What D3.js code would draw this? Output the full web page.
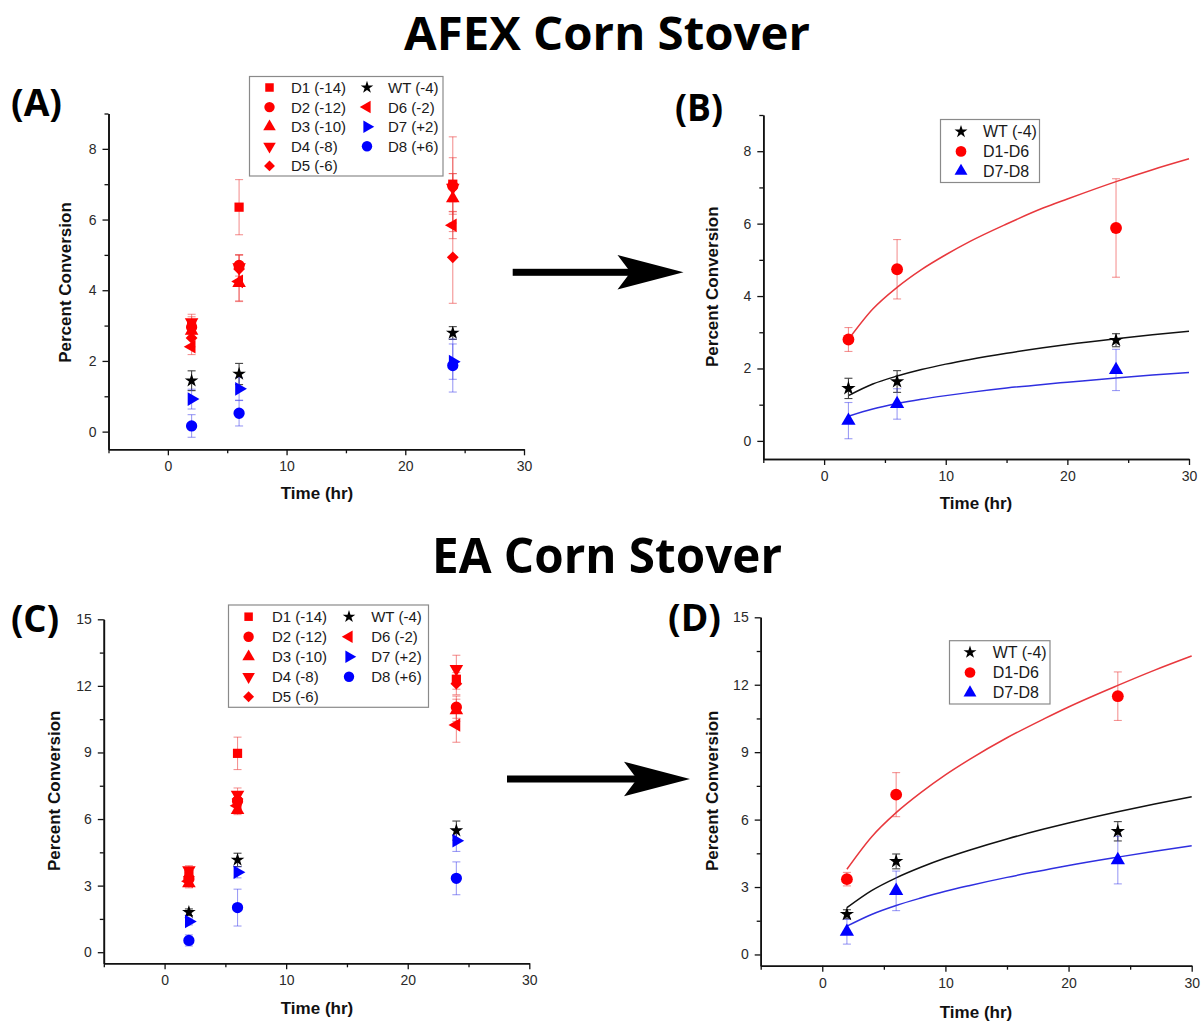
<!DOCTYPE html>
<html><head><meta charset="utf-8">
<script src="https://cdn.jsdelivr.net/npm/d3@7"></script>
<style>
html,body{margin:0;padding:0;background:#fff;}
svg{display:block;}
</style></head>
<body>
<svg id="chart" width="1201" height="1021"></svg>
<script>
// ---------------- DATA ----------------
const times = [2, 6, 24];
const fitTimes = [2, 4, 6, 8, 10, 12, 15, 18, 20, 24, 27, 30];

const xTicksMajor = [0, 10, 20, 30];
const xTicksMinor = [-5, 5, 15, 25];
const yTicksAfexMajor = [0, 2, 4, 6, 8];
const yTicksAfexMinor = [1, 3, 5, 7, 9];
const yTicksEaMajor = [0, 3, 6, 9, 12, 15];
const yTicksEaMinor = [1.5, 4.5, 7.5, 10.5, 13.5];

const mutantLabels = ["D1 (-14)", "D2 (-12)", "D3 (-10)", "D4 (-8)", "D5 (-6)", "WT (-4)", "D6 (-2)", "D7 (+2)", "D8 (+6)"];
const groupLabels = ["WT (-4)", "D1-D6", "D7-D8"];

// Panel A (AFEX, individual mutants)
const afexD1 = [3.05, 6.35, 7.00],  afexD1Err = [0.20, 0.78, 1.34];
const afexD2 = [2.95, 4.70, 6.95],  afexD2Err = [0.20, 0.30, 0.80];
const afexD3 = [2.85, 4.20, 6.60],  afexD3Err = [0.20, 0.52, 0.70];
const afexD4 = [3.10, 4.65, 6.90],  afexD4Err = [0.22, 0.35, 0.40];
const afexD5 = [2.65, 4.60, 4.93],  afexD5Err = [0.25, 0.40, 1.30];
const afexWT = [1.44, 1.63, 2.79],  afexWTErr = [0.28, 0.30, 0.18];
const afexD6 = [2.40, 4.25, 5.84],  afexD6Err = [0.22, 0.55, 0.38];
const afexD7 = [0.92, 1.21, 1.98],  afexD7Err = [0.28, 0.32, 0.50];
const afexD8 = [0.16, 0.52, 1.87],  afexD8Err = [0.32, 0.36, 0.75];

// Panel B (AFEX, grouped + fits)
const afexGrpWT = [1.45, 1.64, 2.78],   afexGrpWTErr = [0.28, 0.30, 0.18];
const afexGrpNeg = [2.80, 4.74, 5.88],  afexGrpNegErr = [0.33, 0.82, 1.36];
const afexGrpPos = [0.56, 1.02, 1.96],  afexGrpPosErr = [0.50, 0.42, 0.57];
const afexFitWT  = [1.25, 1.57, 1.79, 1.97, 2.12, 2.25, 2.42, 2.57, 2.66, 2.82, 2.93, 3.03];
const afexFitNeg = [2.80, 3.64, 4.24, 4.73, 5.14, 5.51, 5.99, 6.43, 6.68, 7.16, 7.49, 7.79];
const afexFitPos = [0.68, 0.88, 1.03, 1.15, 1.25, 1.34, 1.46, 1.56, 1.62, 1.74, 1.82, 1.89];

// Panel C (EA, individual mutants)
const eaD1 = [3.50, 8.96, 12.30],  eaD1Err = [0.20, 0.73, 0.45];
const eaD2 = [3.30, 6.80, 11.04],  eaD2Err = [0.20, 0.35, 0.50];
const eaD3 = [3.10, 6.40, 10.90],  eaD3Err = [0.20, 0.20, 0.50];
const eaD4 = [3.70, 7.10, 12.76],  eaD4Err = [0.20, 0.30, 0.62];
const eaD5 = [3.40, 6.90, 12.10],  eaD5Err = [0.20, 0.30, 0.50];
const eaWT = [1.80, 4.16, 5.48],   eaWTErr = [0.15, 0.30, 0.43];
const eaD6 = [3.20, 6.60, 10.24],  eaD6Err = [0.20, 0.30, 0.78];
const eaD7 = [1.38, 3.60, 5.02],   eaD7Err = [0.15, 0.25, 0.48];
const eaD8 = [0.53, 2.01, 3.33],   eaD8Err = [0.25, 0.83, 0.74];

// Panel D (EA, grouped + fits)
const eaGrpWT = [1.79, 4.14, 5.48],    eaGrpWTErr = [0.20, 0.33, 0.43];
const eaGrpNeg = [3.35, 7.11, 11.49],  eaGrpNegErr = [0.30, 0.98, 1.08];
const eaGrpPos = [1.01, 2.83, 4.20],   eaGrpPosErr = [0.55, 0.88, 1.06];
const eaFitWT  = [2.08, 2.84, 3.41, 3.88, 4.29, 4.65, 5.14, 5.58, 5.85, 6.35, 6.69, 7.02];
const eaFitNeg = [3.79, 5.23, 6.31, 7.20, 7.99, 8.69, 9.64, 10.48, 11.01, 11.97, 12.65, 13.28];
const eaFitPos = [1.26, 1.78, 2.18, 2.51, 2.81, 3.07, 3.43, 3.75, 3.96, 4.33, 4.59, 4.84];

// ---------------- STYLE ----------------
const RED = "#ff0000", BLUE = "#0000ff", BLACK = "#000000";
const ERR = {red: "rgba(235,60,60,0.55)", blue: "rgba(60,60,235,0.5)", black: "#444"};
const FIT = {red: "#e8383d", blue: "#2f2fe0", black: "#111"};

const svg = d3.select("#chart");
const FONT = "'Liberation Sans', Arial, sans-serif";
const TITLEFONT = "'Open Sans', 'DejaVu Sans', sans-serif";

// symbol generator
function symPath(kind, size) {
  const map = {
    square: d3.symbolSquare, circle: d3.symbolCircle, up: d3.symbolTriangle,
    down: d3.symbolTriangle, left: d3.symbolTriangle, right: d3.symbolTriangle,
    diamond: d3.symbolSquare, star: d3.symbolStar
  };
  return d3.symbol().type(map[kind]).size(size)();
}
const symRot = {square: 0, circle: 0, up: 0, down: 180, left: -90, right: 90, diamond: 45, star: 0};
const symSize = {square: 85, circle: 100, up: 80, down: 80, left: 80, right: 80, diamond: 70, star: 58};

function drawSymbol(g, kind, color, cx, cy, scale) {
  const s = scale || 1;
  g.append("path")
    .attr("d", symPath(kind, symSize[kind] * s))
    .attr("transform", `translate(${cx},${cy}) rotate(${symRot[kind]})`)
    .attr("fill", color);
}

// ---------------- PANELS ----------------
function makePanel(p) {
  const g = svg.append("g");
  const x = d3.scaleLinear().domain([-5, 30]).range(p.xr);
  const y = d3.scaleLinear().domain(p.yd).range(p.yr);

  const axisStyle = sel => {
    sel.select(".domain").attr("stroke", "#111").attr("stroke-width", 1.6);
    sel.selectAll(".tick line").attr("stroke", "#111").attr("stroke-width", 1.3);
    sel.selectAll(".tick text").attr("fill", "#2a2a2a").style("font-family", FONT).style("font-size", "14px");
  };
  // x axis
  g.append("g").attr("transform", `translate(0,${p.yr[0]})`)
    .call(d3.axisBottom(x).tickValues(xTicksMinor).tickSize(4).tickSizeOuter(0).tickFormat(""))
    .call(axisStyle);
  g.append("g").attr("transform", `translate(0,${p.yr[0]})`)
    .call(d3.axisBottom(x).tickValues(xTicksMajor).tickSize(6).tickSizeOuter(0).tickPadding(6))
    .call(axisStyle);
  // y axis
  g.append("g").attr("transform", `translate(${p.xr[0]},0)`)
    .call(d3.axisLeft(y).tickValues(p.yMinor).tickSize(4).tickSizeOuter(0).tickFormat(""))
    .call(axisStyle);
  g.append("g").attr("transform", `translate(${p.xr[0]},0)`)
    .call(d3.axisLeft(y).tickValues(p.yMajor).tickSize(6).tickSizeOuter(0).tickPadding(6))
    .call(axisStyle);

  // axis titles
  g.append("text").attr("x", p.xTitle[0]).attr("y", p.xTitle[1])
    .attr("text-anchor", "middle").attr("font-family", FONT).attr("font-weight", "bold")
    .attr("font-size", 17).attr("fill", "#111").text("Time (hr)");
  g.append("text").attr("transform", `translate(${p.yTitle[0]},${p.yTitle[1]}) rotate(-90)`)
    .attr("text-anchor", "middle").attr("font-family", FONT).attr("font-weight", "bold")
    .attr("font-size", 17).attr("fill", "#111").text("Percent Conversion");

  // fits
  if (p.fits) {
    const line = d3.line().x((d, i) => x(fitTimes[i])).y(d => y(d)).curve(d3.curveMonotoneX);
    p.fits.forEach(f => {
      g.append("path").datum(f.values).attr("d", line)
        .attr("fill", "none").attr("stroke", FIT[f.color]).attr("stroke-width", 1.5);
    });
  }

  // error bars
  const cap = 4;
  p.series.forEach(s => {
    const eg = g.append("g").attr("stroke", ERR[s.err]).attr("stroke-width", 1.1);
    s.values.forEach((v, i) => {
      const cx = x(times[i]), top = y(v + s.errs[i]), bot = y(v - s.errs[i]);
      eg.append("line").attr("x1", cx).attr("x2", cx).attr("y1", top).attr("y2", bot);
      eg.append("line").attr("x1", cx - cap).attr("x2", cx + cap).attr("y1", top).attr("y2", top);
      eg.append("line").attr("x1", cx - cap).attr("x2", cx + cap).attr("y1", bot).attr("y2", bot);
    });
  });
  // markers
  p.series.forEach(s => {
    s.values.forEach((v, i) => drawSymbol(g, s.sym, s.color, x(times[i]), y(v), p.markScale));
  });

  // legend
  const L = p.legend;
  g.append("rect").attr("x", L.box[0]).attr("y", L.box[1]).attr("width", L.box[2]).attr("height", L.box[3])
    .attr("fill", "#fff").attr("stroke", "#8a8a8a").attr("stroke-width", 1.2);
  L.items.forEach((it, k) => {
    const col = Math.floor(k / L.rowsPerCol), row = k % L.rowsPerCol;
    const sx = L.symX[col], tx = L.textX[col], ty = L.rowY0 + row * L.rowH;
    drawSymbol(g, it.sym, it.color, sx, ty, L.symScale);
    g.append("text").attr("x", tx).attr("y", ty).attr("dy", "0.36em")
      .attr("font-family", FONT).attr("font-size", L.fontSize).attr("fill", "#1a1a1a").text(it.label);
  });
}

const mutantSyms = ["square", "circle", "up", "down", "diamond", "star", "left", "right", "circle"];
const mutantColors = [RED, RED, RED, RED, RED, BLACK, RED, BLUE, BLUE];
const mutantErrs = ["red", "red", "red", "red", "red", "black", "red", "blue", "blue"];
const groupSyms = ["star", "circle", "up"];
const groupColors = [BLACK, RED, BLUE];
const groupErrs = ["black", "red", "blue"];

function mutantSeries(vals, errs) {
  return vals.map((v, i) => ({values: v, errs: errs[i], sym: mutantSyms[i], color: mutantColors[i], err: mutantErrs[i]}));
}
function groupSeries(vals, errs) {
  return vals.map((v, i) => ({values: v, errs: errs[i], sym: groupSyms[i], color: groupColors[i], err: groupErrs[i]}));
}
const mutantLegendItems = mutantLabels.map((l, i) => ({label: l, sym: mutantSyms[i], color: mutantColors[i]}));
const groupLegendItems = groupLabels.map((l, i) => ({label: l, sym: groupSyms[i], color: groupColors[i]}));

// Panel A
makePanel({
  xr: [108.5, 524], yd: [-0.5, 9], yr: [449.3, 113.5],
  yMajor: yTicksAfexMajor, yMinor: yTicksAfexMinor,
  xTitle: [317, 499], yTitle: [71, 282.5], markScale: 1,
  series: mutantSeries(
    [afexD1, afexD2, afexD3, afexD4, afexD5, afexWT, afexD6, afexD7, afexD8],
    [afexD1Err, afexD2Err, afexD3Err, afexD4Err, afexD5Err, afexWTErr, afexD6Err, afexD7Err, afexD8Err]),
  legend: {box: [249.5, 76.5, 193.5, 99.5], items: mutantLegendItems, rowsPerCol: 5,
    symX: [269.5, 367], textX: [291, 388], rowY0: 87.5, rowH: 19.6, fontSize: 15, symScale: 0.85}
});

// Panel B
makePanel({
  xr: [763.3, 1189], yd: [-0.5, 9], yr: [459, 115],
  yMajor: yTicksAfexMajor, yMinor: yTicksAfexMinor,
  xTitle: [976, 509], yTitle: [718, 286.7], markScale: 1.1,
  fits: [{values: afexFitWT, color: "black"}, {values: afexFitNeg, color: "red"}, {values: afexFitPos, color: "blue"}],
  series: groupSeries([afexGrpWT, afexGrpNeg, afexGrpPos], [afexGrpWTErr, afexGrpNegErr, afexGrpPosErr]),
  legend: {box: [940.5, 119.5, 99, 63], items: groupLegendItems, rowsPerCol: 3,
    symX: [961], textX: [983], rowY0: 131.7, rowH: 19.7, fontSize: 16, symScale: 0.9}
});

// Panel C
makePanel({
  xr: [103.8, 529.3], yd: [-0.5, 15], yr: [963.3, 619.3],
  yMajor: yTicksEaMajor, yMinor: yTicksEaMinor,
  xTitle: [317, 1013.5], yTitle: [59.5, 790.8], markScale: 1,
  series: mutantSeries(
    [eaD1, eaD2, eaD3, eaD4, eaD5, eaWT, eaD6, eaD7, eaD8],
    [eaD1Err, eaD2Err, eaD3Err, eaD4Err, eaD5Err, eaWTErr, eaD6Err, eaD7Err, eaD8Err]),
  legend: {box: [228.5, 605, 200, 102.3], items: mutantLegendItems, rowsPerCol: 5,
    symX: [248.6, 349], textX: [272, 371.2], rowY0: 616.7, rowH: 20, fontSize: 15, symScale: 0.85}
});

// Panel D
makePanel({
  xr: [760.7, 1191.7], yd: [-0.5, 15], yr: [965.7, 617.3],
  yMajor: yTicksEaMajor, yMinor: yTicksEaMinor,
  xTitle: [976, 1017.5], yTitle: [718, 790.8], markScale: 1.1,
  fits: [{values: eaFitWT, color: "black"}, {values: eaFitNeg, color: "red"}, {values: eaFitPos, color: "blue"}],
  series: groupSeries([eaGrpWT, eaGrpNeg, eaGrpPos], [eaGrpWTErr, eaGrpNegErr, eaGrpPosErr]),
  legend: {box: [949.5, 640.7, 100.5, 63.3], items: groupLegendItems, rowsPerCol: 3,
    symX: [970], textX: [992.7], rowY0: 652.3, rowH: 20.2, fontSize: 16, symScale: 0.9}
});

// ---------------- TITLES & DECORATION ----------------
function bigText(txt, x, y, size, len) {
  svg.append("text").attr("x", x).attr("y", y).attr("font-family", TITLEFONT).attr("font-weight", 700)
    .attr("font-size", size).attr("fill", "#000")
    .attr("textLength", len).attr("lengthAdjust", "spacingAndGlyphs").text(txt);
}
bigText("AFEX Corn Stover", 404, 50, 46, 406);
bigText("EA Corn Stover", 432, 573, 49, 350);
bigText("(A)", 11, 116, 37, 51);
bigText("(B)", 675, 121, 37, 48);
bigText("(C)", 11, 632, 37, 48);
bigText("(D)", 668, 631, 37, 53);

function arrow(x0, x1, yc) {
  const headLen = 66, notch = 53, half = 17.3, sh = 3.5;
  svg.append("rect").attr("x", x0).attr("y", yc - sh).attr("width", (x1 - notch) - x0 + 2).attr("height", sh * 2).attr("fill", "#000");
  svg.append("path").attr("d",
    `M${x1 - headLen},${yc - half} L${x1},${yc} L${x1 - headLen},${yc + half} L${x1 - notch},${yc} Z`).attr("fill", "#000");
}
arrow(512.7, 683.5, 272.3);
arrow(507, 690, 779);
</script>
</body></html>
